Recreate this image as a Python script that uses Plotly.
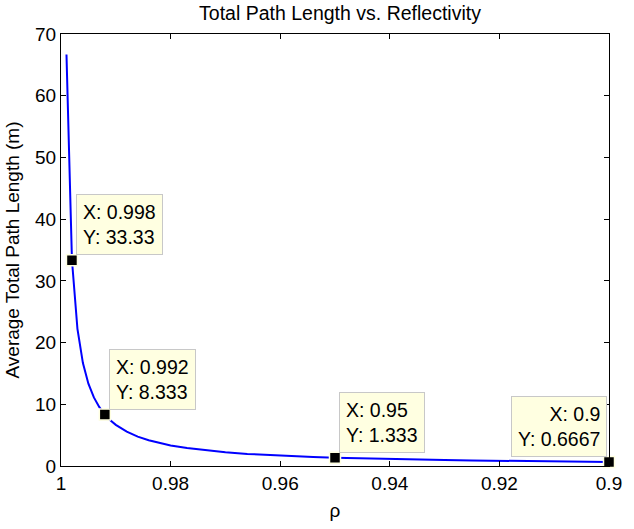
import plotly.graph_objects as go

# Reflectivity samples and the corresponding average total path length (m)
rho = [0.999, 0.998, 0.997, 0.996, 0.995, 0.994, 0.993, 0.992, 0.991, 0.990,
       0.988, 0.986, 0.984, 0.982, 0.980, 0.977, 0.974, 0.970, 0.966, 0.962,
       0.958, 0.954, 0.950, 0.945, 0.940, 0.935, 0.930, 0.925, 0.920, 0.915,
       0.910, 0.905, 0.900]
path_len = [66.67, 33.33, 22.22, 16.67, 13.33, 11.11, 9.524, 8.333, 7.407, 6.667,
            5.556, 4.762, 4.167, 3.704, 3.333, 2.899, 2.564, 2.222, 1.961, 1.754,
            1.587, 1.449, 1.333, 1.212, 1.111, 1.026, 0.9524, 0.8889, 0.8333, 0.7843,
            0.7407, 0.7018, 0.6667]

# Data tips
tip_rho = [0.998, 0.992, 0.95, 0.9]
tip_len = [33.33, 8.333, 1.333, 0.6667]
tip_right = [False, False, False, True]

x_ticks = [1, 0.98, 0.96, 0.94, 0.92, 0.9]
x_tick_text = ["1", "0.98", "0.96", "0.94", "0.92", "0.9"]
y_ticks = [0, 10, 20, 30, 40, 50, 60, 70]

FONT = "Liberation Sans, Arial, Helvetica, sans-serif"

fig = go.Figure()
fig.add_trace(go.Scatter(
    x=rho, y=path_len, mode="lines",
    line=dict(color="rgb(0,0,255)", width=2),
    hoverinfo="skip", showlegend=False,
))
fig.add_trace(go.Scatter(
    x=tip_rho, y=tip_len, mode="markers",
    marker=dict(symbol="square", size=11, color="black",
                line=dict(color="rgb(255,255,225)", width=1.5)),
    cliponaxis=False, showlegend=False, hoverinfo="skip",
))

for xv, yv, right in zip(tip_rho, tip_len, tip_right):
    fig.add_annotation(
        x=xv, y=yv, xref="x", yref="y",
        text=f"X: {xv:g}<br>Y: {yv:.4g}",
        showarrow=False,
        xanchor="right" if right else "left",
        yanchor="bottom",
        xshift=-2 if right else 4,
        yshift=5,
        align="right" if right else "left",
        bgcolor="rgb(255,255,225)",
        bordercolor="rgb(200,200,200)",
        borderwidth=1,
        borderpad=6,
        font=dict(family=FONT, size=19.5, color="black"),
    )

axis_common = dict(
    showline=True, linecolor="black", linewidth=1, mirror="ticks",
    ticks="inside", ticklen=5, tickcolor="black", tickwidth=1,
    showgrid=False, zeroline=False,
    tickfont=dict(family=FONT, size=19, color="black"),
)

fig.update_layout(
    width=634, height=529,
    margin=dict(l=61, r=15, t=34, b=55),
    paper_bgcolor="white", plot_bgcolor="white",
    title=dict(text="Total Path Length vs. Reflectivity", x=(61 + 619) / 2 / 634,
               xanchor="center", y=1 - 13 / 529, yanchor="middle",
               font=dict(family=FONT, size=19.5, color="black")),
    xaxis=dict(range=[1, 0.9], tickvals=x_ticks, ticktext=x_tick_text,
               title=dict(text="ρ", standoff=10,
                          font=dict(family=FONT, size=19, color="black")),
               **axis_common),
    yaxis=dict(range=[0, 70], tickvals=y_ticks,
               title=dict(text="Average Total Path Length (m)", standoff=10,
                          font=dict(family=FONT, size=19, color="black")),
               **axis_common),
)

fig.write_html("out.html")
